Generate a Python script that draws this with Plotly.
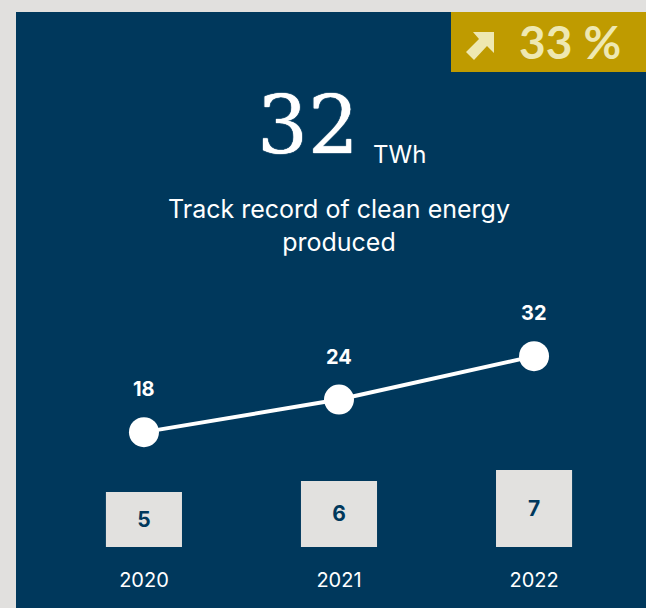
import plotly.graph_objects as go

years = ["2020", "2021", "2022"]
energy_twh = [18, 24, 32]
bar_values = [5, 6, 7]
headline_value = "32"
headline_unit = "TWh"
subtitle = "Track record of clean energy<br>produced"
growth_label = "33 %"

NAVY = "#00385c"
GREY = "#e1e0de"
BAR = "#e2e1df"
GOLD = "#bf9b00"
PALE = "#eee8b2"
WHITE = "#ffffff"

fig = go.Figure()

fig.add_trace(go.Bar(
    x=years, y=bar_values, xaxis="x", yaxis="y2",
    marker=dict(color=BAR, line=dict(width=0)),
    width=0.39,
    text=[str(v) for v in bar_values],
    textposition="inside", insidetextanchor="middle", textangle=0,
    constraintext="none",
    textfont=dict(family="Inter", size=21, color=NAVY, weight="bold"),
    hoverinfo="skip",
))

fig.add_trace(go.Scatter(
    x=years, y=energy_twh, xaxis="x", yaxis="y",
    mode="lines+markers",
    line=dict(color=WHITE, width=4),
    marker=dict(color=WHITE, size=30),
    hoverinfo="skip",
))

annotations = []
for i, v in enumerate(energy_twh):
    annotations.append(dict(
        x=i, y=v, xref="x", yref="y", text=str(v), showarrow=False,
        yshift=43, font=dict(family="Inter", size=20, color=WHITE, weight="bold"),
    ))

W, H = 646, 608
L, T = 16, 12
pw, ph = W - L, H - T


def px(xpix):
    return (xpix - L) / pw


def py(ypix):
    return 1 - (ypix - T) / ph


annotations += [
    dict(x=px(308), y=py(174), xref="paper", yref="paper", text=headline_value,
         showarrow=False, xanchor="center", yanchor="bottom",
         font=dict(family="DejaVu Serif", size=80, color=WHITE,
                   shadow="0px 0px 1px #ffffff, 0px 0px 1px #ffffff")),
    dict(x=px(371), y=py(171), xref="paper", yref="paper", text=headline_unit,
         showarrow=False, xanchor="left", yanchor="bottom",
         font=dict(family="Inter", size=24, color=WHITE)),
    dict(x=px(339), y=py(225), xref="paper", yref="paper", text=subtitle,
         showarrow=False, xanchor="center", yanchor="middle",
         font=dict(family="Inter", size=25, color=WHITE)),
    dict(x=px(570), y=py(42), xref="paper", yref="paper", text=growth_label,
         showarrow=False, xanchor="center", yanchor="middle",
         font=dict(family="Lato", size=46, color=PALE, weight="bold")),
]

shapes = [
    dict(type="rect", xref="paper", yref="paper", x0=px(451), x1=px(646),
         y0=py(12), y1=py(72), fillcolor=GOLD, line=dict(width=0), layer="below"),
    # arrow icon
    dict(type="path", xref="paper", yref="paper",
         path=("M {} {} L {} {} L {} {} L {} {} L {} {} L {} {} L {} {} Z".format(
             px(494), py(32), px(494), py(53), px(487), py(46),
             px(474), py(60), px(466), py(52), px(479), py(39),
             px(473), py(32))),
         fillcolor=PALE, line=dict(width=0)),
]

fig.update_layout(
    width=W, height=H,
    margin=dict(l=L, t=T, r=0, b=0, pad=0),
    paper_bgcolor=GREY, plot_bgcolor=NAVY,
    showlegend=False,
    xaxis=dict(type="category", range=[-0.656, 2.574], anchor="free", position=py(566),
               showgrid=False, zeroline=False, showline=False, ticks="",
               tickfont=dict(family="Inter", size=20, color=WHITE),
               fixedrange=True),
    yaxis=dict(range=[-14.4, 95.4], visible=False, fixedrange=True),
    yaxis2=dict(range=[-5.55, 48.65], overlaying="y", visible=False, fixedrange=True),
    annotations=annotations,
    shapes=shapes,
)

fig.write_html(
    "out.html",
    config={"displayModeBar": False},
    post_script="document.body.style.margin='0';document.body.style.overflow='hidden';",
)
